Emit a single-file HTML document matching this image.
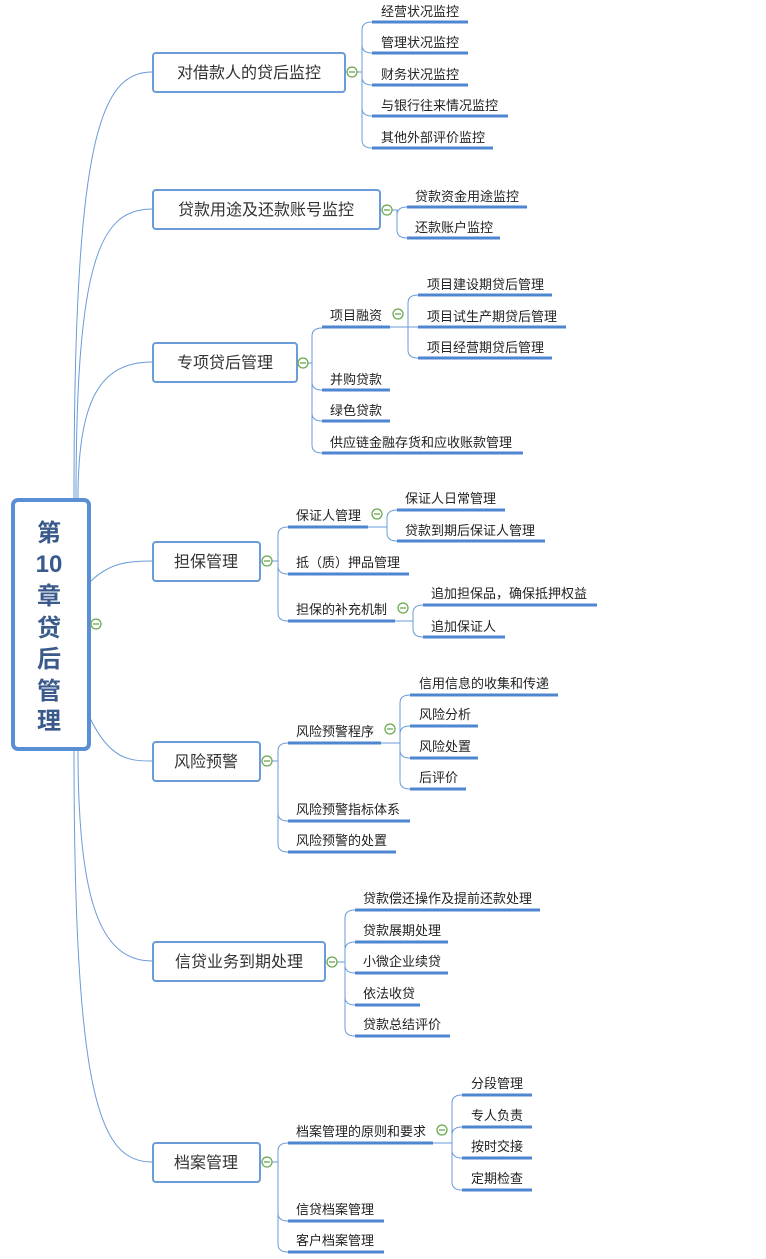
<!DOCTYPE html>
<html><head><meta charset="utf-8"><style>
html,body{margin:0;padding:0;background:#fff;width:766px;height:1259px;overflow:hidden}
svg{display:block}
.lf{font-family:"Liberation Sans","Noto Sans CJK SC",sans-serif;font-size:13px;fill:#222}
.br{font-family:"Liberation Sans","Noto Sans CJK SC",sans-serif;font-size:16px;fill:#333}
.rt{font-family:"Liberation Sans","Noto Sans CJK SC",sans-serif;font-size:24px;font-weight:bold;fill:#3a5a8c}
.ul{stroke:#4f86d0;stroke-width:3}
.cn{stroke:#6b9bd8;stroke-width:1;fill:none}
.bx{fill:#fff;stroke:#6b9bd8;stroke-width:2}
.ic{fill:#fff;stroke:#6aa84f;stroke-width:1.3}
</style></head><body>
<svg width="766" height="1259" viewBox="0 0 766 1259" xmlns="http://www.w3.org/2000/svg">
<defs>
<g id="ic"><circle r="5" class="ic"/><line x1="-3" y1="0" x2="3" y2="0" stroke="#6aa84f" stroke-width="1.3"/></g>
</defs>
<path class="cn" d="M74,498 C74,140 100,72 152,72"/>
<path class="cn" d="M76,498 C76,260 100,209 152,209"/>
<path class="cn" d="M78,498 C78,400 100,362 152,362"/>
<path class="cn" d="M90,582 C110,562 130,561 152,561"/>
<path class="cn" d="M90,718 C110,760 130,761 152,761"/>
<path class="cn" d="M78,750 C78,900 100,961 152,961"/>
<path class="cn" d="M74,750 C74,1100 100,1162 152,1162"/>
<rect x="13" y="500" width="76" height="249" rx="5" fill="#fff" stroke="#5b8fd4" stroke-width="4"/>
<g class="rt" text-anchor="middle">
<text x="49" y="541">第</text><text x="49" y="572">10</text><text x="49" y="604">章</text><text x="49" y="636">贷</text><text x="49" y="667">后</text><text x="49" y="699">管</text><text x="49" y="729">理</text>
</g>
<use href="#ic" x="96" y="624"/>

<g class="br" text-anchor="middle">
<rect class="bx" x="153" y="53" width="192" height="39" rx="3"/><text x="249" y="78">对借款人的贷后监控</text>
<rect class="bx" x="153" y="190" width="227" height="39" rx="3"/><text x="266" y="215">贷款用途及还款账号监控</text>
<rect class="bx" x="153" y="343" width="144" height="39" rx="3"/><text x="225" y="368">专项贷后管理</text>
<rect class="bx" x="153" y="542" width="107" height="39" rx="3"/><text x="206" y="567">担保管理</text>
<rect class="bx" x="153" y="742" width="107" height="39" rx="3"/><text x="206" y="767">风险预警</text>
<rect class="bx" x="153" y="942" width="172" height="39" rx="3"/><text x="239" y="967">信贷业务到期处理</text>
<rect class="bx" x="153" y="1143" width="107" height="39" rx="3"/><text x="206" y="1168">档案管理</text>
</g>

<path class="cn" d="M357,72 L362,72 M362,72 L362,30 Q362,22 372,22 M362,72 L362,45 Q362,53 372,53 M362,72 L362,77 Q362,85 372,85 M362,72 L362,108 Q362,116 372,116 M362,72 L362,140 Q362,148 372,148"/>
<use href="#ic" x="352" y="72"/>
<g class="lf">
<text x="381" y="16">经营状况监控</text><line class="ul" x1="372" y1="22" x2="468" y2="22"/>
<text x="381" y="47">管理状况监控</text><line class="ul" x1="372" y1="53" x2="468" y2="53"/>
<text x="381" y="79">财务状况监控</text><line class="ul" x1="372" y1="85" x2="468" y2="85"/>
<text x="381" y="110">与银行往来情况监控</text><line class="ul" x1="372" y1="116" x2="508" y2="116"/>
<text x="381" y="142">其他外部评价监控</text><line class="ul" x1="372" y1="148" x2="493" y2="148"/>
</g>

<path class="cn" d="M392,210 L397,210 L397,215 Q397,207 407,207 M397,210 L397,230 Q397,238 407,238"/>
<use href="#ic" x="387" y="210"/>
<g class="lf">
<text x="415" y="201">贷款资金用途监控</text><line class="ul" x1="407" y1="207" x2="527" y2="207"/>
<text x="415" y="232">还款账户监控</text><line class="ul" x1="407" y1="238" x2="500" y2="238"/>
</g>

<path class="cn" d="M308,363 L312,363 L312,336 Q312,328 322,328 M312,363 L312,382 Q312,390 322,390 M312,363 L312,413 Q312,421 322,421 M312,363 L312,445 Q312,453 322,453"/>
<use href="#ic" x="303" y="363"/>
<path class="cn" d="M390,327 L408,327 M408,327 L408,303 Q408,295 418,295 M408,327 L418,327 M408,327 L408,350 Q408,358 418,358"/>
<use href="#ic" x="398" y="314"/>
<g class="lf">
<text x="330" y="320">项目融资</text><line class="ul" x1="322" y1="327" x2="390" y2="327"/>
<text x="330" y="384">并购贷款</text><line class="ul" x1="322" y1="390" x2="390" y2="390"/>
<text x="330" y="415">绿色贷款</text><line class="ul" x1="322" y1="421" x2="390" y2="421"/>
<text x="330" y="447">供应链金融存货和应收账款管理</text><line class="ul" x1="322" y1="453" x2="523" y2="453"/>
<text x="427" y="289">项目建设期贷后管理</text><line class="ul" x1="418" y1="295" x2="552" y2="295"/>
<text x="427" y="321">项目试生产期贷后管理</text><line class="ul" x1="418" y1="327" x2="566" y2="327"/>
<text x="427" y="352">项目经营期贷后管理</text><line class="ul" x1="418" y1="358" x2="552" y2="358"/>
</g>

<path class="cn" d="M272,561 L278,561 L278,535 Q278,527 288,527 M278,561 L278,566 Q278,574 288,574 M278,561 L278,613 Q278,621 288,621"/>
<use href="#ic" x="267" y="561"/>
<path class="cn" d="M368,527 L387,527 M387,527 L387,518 Q387,510 397,510 M387,527 L387,533 Q387,541 397,541"/>
<use href="#ic" x="377" y="514"/>
<path class="cn" d="M395,621 L413,621 M413,621 L413,613 Q413,605 423,605 M413,621 L413,629 Q413,637 423,637"/>
<use href="#ic" x="403" y="608"/>
<g class="lf">
<text x="296" y="520">保证人管理</text><line class="ul" x1="288" y1="527" x2="368" y2="527"/>
<text x="296" y="567">抵（质）押品管理</text><line class="ul" x1="288" y1="574" x2="409" y2="574"/>
<text x="296" y="614">担保的补充机制</text><line class="ul" x1="288" y1="621" x2="395" y2="621"/>
<text x="405" y="503">保证人日常管理</text><line class="ul" x1="397" y1="510" x2="505" y2="510"/>
<text x="405" y="535">贷款到期后保证人管理</text><line class="ul" x1="397" y1="541" x2="545" y2="541"/>
<text x="431" y="598">追加担保品，确保抵押权益</text><line class="ul" x1="423" y1="605" x2="597" y2="605"/>
<text x="431" y="631">追加保证人</text><line class="ul" x1="423" y1="637" x2="505" y2="637"/>
</g>

<path class="cn" d="M272,761 L278,761 L278,751 Q278,743 288,743 M278,761 L278,813 Q278,821 288,821 M278,761 L278,844 Q278,852 288,852"/>
<use href="#ic" x="267" y="761"/>
<path class="cn" d="M381,743 L400,743 M400,743 L400,703 Q400,695 410,695 M400,743 L400,734 Q400,726 410,726 M400,743 L400,750 Q400,758 410,758 M400,743 L400,781 Q400,789 410,789"/>
<use href="#ic" x="390" y="729"/>
<g class="lf">
<text x="296" y="736">风险预警程序</text><line class="ul" x1="288" y1="743" x2="381" y2="743"/>
<text x="296" y="814">风险预警指标体系</text><line class="ul" x1="288" y1="821" x2="410" y2="821"/>
<text x="296" y="845">风险预警的处置</text><line class="ul" x1="288" y1="852" x2="396" y2="852"/>
<text x="419" y="688">信用信息的收集和传递</text><line class="ul" x1="410" y1="695" x2="558" y2="695"/>
<text x="419" y="719">风险分析</text><line class="ul" x1="410" y1="726" x2="478" y2="726"/>
<text x="419" y="751">风险处置</text><line class="ul" x1="410" y1="758" x2="478" y2="758"/>
<text x="419" y="782">后评价</text><line class="ul" x1="410" y1="789" x2="466" y2="789"/>
</g>

<path class="cn" d="M337,962 L345,962 L345,918 Q345,910 355,910 M345,962 L345,950 Q345,942 355,942 M345,962 L345,965 Q345,973 355,973 M345,962 L345,997 Q345,1005 355,1005 M345,962 L345,1028 Q345,1036 355,1036"/>
<use href="#ic" x="332" y="962"/>
<g class="lf">
<text x="363" y="903">贷款偿还操作及提前还款处理</text><line class="ul" x1="355" y1="910" x2="540" y2="910"/>
<text x="363" y="935">贷款展期处理</text><line class="ul" x1="355" y1="942" x2="448" y2="942"/>
<text x="363" y="966">小微企业续贷</text><line class="ul" x1="355" y1="973" x2="448" y2="973"/>
<text x="363" y="998">依法收贷</text><line class="ul" x1="355" y1="1005" x2="420" y2="1005"/>
<text x="363" y="1029">贷款总结评价</text><line class="ul" x1="355" y1="1036" x2="450" y2="1036"/>
</g>

<path class="cn" d="M272,1162 L278,1162 L278,1151 Q278,1143 288,1143 M278,1162 L278,1213 Q278,1221 288,1221 M278,1162 L278,1244 Q278,1252 288,1252"/>
<use href="#ic" x="267" y="1162"/>
<path class="cn" d="M433,1143 L452,1143 M452,1143 L452,1103 Q452,1095 462,1095 M452,1143 L452,1135 Q452,1127 462,1127 M452,1143 L452,1150 Q452,1158 462,1158 M452,1143 L452,1182 Q452,1190 462,1190"/>
<use href="#ic" x="442" y="1130"/>
<g class="lf">
<text x="296" y="1136">档案管理的原则和要求</text><line class="ul" x1="288" y1="1143" x2="433" y2="1143"/>
<text x="296" y="1214">信贷档案管理</text><line class="ul" x1="288" y1="1221" x2="384" y2="1221"/>
<text x="296" y="1245">客户档案管理</text><line class="ul" x1="288" y1="1252" x2="384" y2="1252"/>
<text x="471" y="1088">分段管理</text><line class="ul" x1="462" y1="1095" x2="532" y2="1095"/>
<text x="471" y="1120">专人负责</text><line class="ul" x1="462" y1="1127" x2="532" y2="1127"/>
<text x="471" y="1151">按时交接</text><line class="ul" x1="462" y1="1158" x2="532" y2="1158"/>
<text x="471" y="1183">定期检查</text><line class="ul" x1="462" y1="1190" x2="532" y2="1190"/>
</g>
</svg>
</body></html>
